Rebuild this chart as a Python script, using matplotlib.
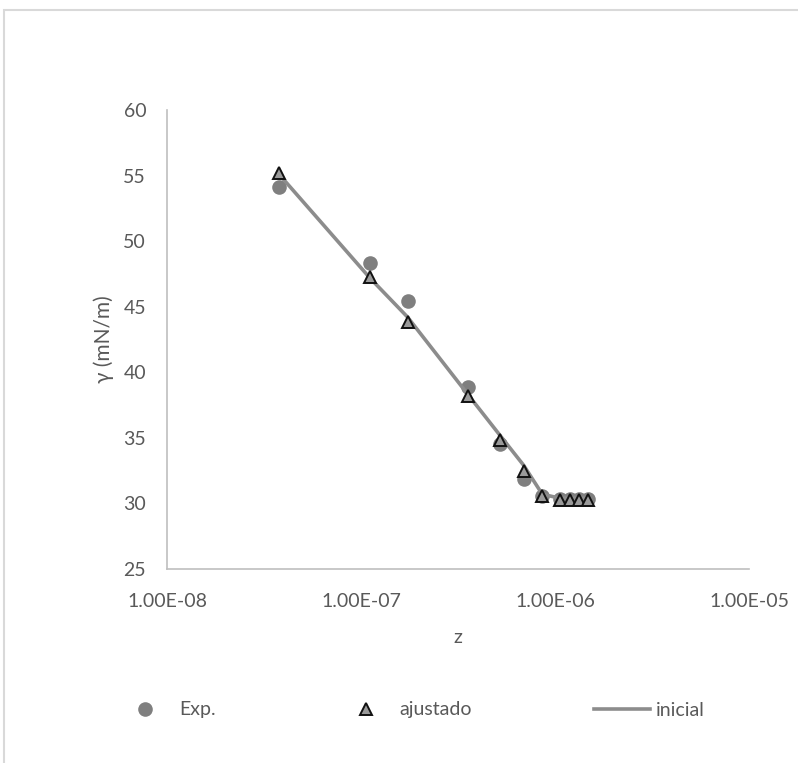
import matplotlib
matplotlib.use("Agg")
import matplotlib.pyplot as plt
from matplotlib.patches import Rectangle
from matplotlib.ticker import FixedLocator, NullLocator

plt.rcParams['font.family'] = ['Lato', 'DejaVu Sans']

# datos
z = [3.78e-8, 1.11e-7, 1.74e-7, 3.56e-7, 5.2e-7, 6.9e-7, 8.6e-7,
     1.06e-6, 1.19e-6, 1.33e-6, 1.48e-6]
gamma_exp = [54.1, 48.3, 45.4, 38.9, 34.5, 31.9, 30.6, 30.3, 30.3, 30.3, 30.3]
gamma_ajustado = [55.2, 47.3, 43.8, 38.2, 34.8, 32.5, 30.6, 30.25, 30.25, 30.25, 30.25]
gamma_inicial = [55.1, 47.2, 44.2, 38.3, 35.2, 32.9, 30.7, 30.4, 30.4, 30.4, 30.4]

x_ticks = [1e-8, 1e-7, 1e-6, 1e-5]
x_labels = ["1.00E-08", "1.00E-07", "1.00E-06", "1.00E-05"]
y_ticks = [25, 30, 35, 40, 45, 50, 55, 60]

txt = '#595959'
fs = 14
W, H = 798, 763
fig = plt.figure(figsize=(W / 100, H / 100), dpi=100)
ax = fig.add_axes([167 / W, 1 - 569 / H, (749 - 167) / W, (569 - 110) / H])

ax.plot(z, gamma_exp, 'o', color='#7f7f7f', markersize=10.5, markeredgewidth=0,
        label='Exp.', zorder=2)
ax.plot(z, gamma_ajustado, '^', color='#9a9a9a', markersize=9,
        markeredgecolor='#111111', markeredgewidth=1.4, label='ajustado', zorder=4)
ax.plot(z, gamma_inicial, '-', color='#8c8c8c', linewidth=2.6, label='inicial', zorder=3)

ax.set_xscale('log')
ax.set_xlim(1e-8, 1e-5)
ax.set_ylim(25, 60)
ax.xaxis.set_major_locator(FixedLocator(x_ticks))
ax.xaxis.set_minor_locator(NullLocator())
ax.set_xticklabels(x_labels)
ax.set_yticks(y_ticks)
ax.tick_params(length=0, labelsize=fs, colors=txt)
ax.tick_params(axis='x', pad=17)
ax.tick_params(axis='y', pad=15)

for s in ['top', 'right']:
    ax.spines[s].set_visible(False)
for s in ['left', 'bottom']:
    ax.spines[s].set_color('#bfbfbf')
    ax.spines[s].set_linewidth(1.2)

ax.set_xlabel('z', fontsize=fs, color=txt, labelpad=14)
ax.set_ylabel('γ (mN/m)', fontsize=fs + 1, color=txt, labelpad=7)

leg = fig.legend(loc='center', bbox_to_anchor=(411 / W, 1 - 710 / H), ncol=3,
                 frameon=False, fontsize=fs, handlelength=2.9, handletextpad=0.3,
                 columnspacing=6.25)
for t in leg.get_texts():
    t.set_color(txt)

# borde del area del grafico
fig.patches.append(Rectangle((4 / W, -0.05), 1.1, 1 - 10 / H + 0.05,
                             transform=fig.transFigure, fill=False,
                             edgecolor='#d9d9d9', linewidth=1.5))

fig.savefig('out.png', dpi=100)
